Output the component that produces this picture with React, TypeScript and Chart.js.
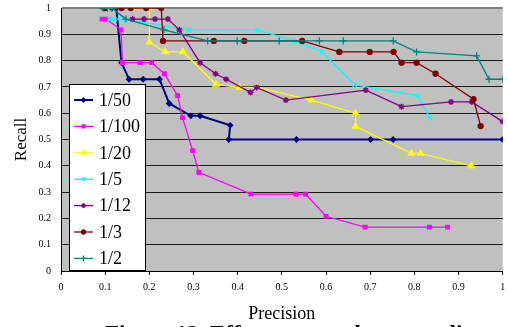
import React, { useEffect, useRef } from 'react';
import { Chart, registerables } from 'chart.js';
import { drawPoint } from 'chart.js/helpers';

Chart.register(...registerables);

const seriesLabels = ['1/50', '1/100', '1/20', '1/5', '1/12', '1/3', '1/2'];
const seriesColors = ['#000080', '#FF00FF', '#FFFF00', '#00FFFF', '#800080', '#800000', '#008080'];

const p50 = [0.095, 0.105, 0.115, 0.125, 0.137, 0.154, 0.186, 0.223, 0.245, 0.294, 0.315, 0.383, 0.380, 0.533, 0.701, 0.752, 1.0];
const r50 = [1, 1, 1, 1, 0.792, 0.729, 0.729, 0.729, 0.637, 0.59, 0.59, 0.554, 0.5, 0.5, 0.5, 0.5, 0.5];

const p100 = [0.093, 0.102, 0.136, 0.139, 0.179, 0.205, 0.234, 0.264, 0.275, 0.298, 0.312, 0.430, 0.532, 0.554, 0.600, 0.688, 0.834, 0.875];
const r100 = [0.958, 0.958, 0.917, 0.792, 0.792, 0.792, 0.75, 0.667, 0.583, 0.458, 0.375, 0.292, 0.292, 0.292, 0.208, 0.167, 0.167, 0.167];

const p20 = [0.1, 0.162, 0.2, 0.2, 0.236, 0.276, 0.351, 0.404, 0.443, 0.567, 0.667, 0.667, 0.793, 0.814, 0.929];
const r20 = [1, 1, 1, 0.87, 0.833, 0.833, 0.71, 0.698, 0.698, 0.65, 0.6, 0.55, 0.447, 0.447, 0.4];

const p5 = [0.11, 0.121, 0.143, 0.289, 0.445, 0.527, 0.591, 0.665, 0.807, 0.835];
const r5 = [0.958, 0.958, 0.958, 0.917, 0.917, 0.875, 0.833, 0.708, 0.667, 0.583];

const p12 = [0.162, 0.188, 0.213, 0.242, 0.268, 0.315, 0.35, 0.374, 0.429, 0.443, 0.509, 0.69, 0.771, 0.883, 0.93, 1.0];
const r12 = [0.958, 0.958, 0.958, 0.958, 0.917, 0.792, 0.75, 0.729, 0.679, 0.698, 0.65, 0.688, 0.625, 0.643, 0.643, 0.568];

const p3 = [0.1, 0.137, 0.158, 0.193, 0.227, 0.231, 0.346, 0.415, 0.546, 0.63, 0.699, 0.753, 0.771, 0.805, 0.848, 0.934, 0.95];
const r3 = [1, 1, 1, 1, 1, 0.875, 0.875, 0.875, 0.875, 0.833, 0.833, 0.833, 0.792, 0.792, 0.75, 0.653, 0.551];

const p2 = [0.095, 0.105, 0.115, 0.147, 0.233, 0.332, 0.399, 0.494, 0.585, 0.639, 0.752, 0.805, 0.941, 0.969, 1.0];
const r2 = [1, 1, 1, 0.958, 0.917, 0.875, 0.875, 0.875, 0.875, 0.875, 0.875, 0.833, 0.818, 0.729, 0.729];

const precisionSeries = [p50, p100, p20, p5, p12, p3, p2];
const recallSeries = [r50, r100, r20, r5, r12, r3, r2];

const pointStyles = ['rectRot', 'rect', 'triangle', 'crossRot', 'star', 'circle', 'cross'];
const pointRadii = [2.5, 2.5, 3.5, 3, 3, 2.5, 3.5];
const lineWidths = [2, 1.3, 1.3, 1.3, 1.3, 1.3, 1.3];

const xTickLabels = ['0', '0.1', '0.2', '0.3', '0.4', '0.5', '0.6', '0.7', '0.8', '0.9', '1'];
const yTickLabels = ['0', '0.1', '0.2', '0.3', '0.4', '0.5', '0.6', '0.7', '0.8', '0.9', '1'];

const SERIF = '"Liberation Serif", "Times New Roman", serif';

const bgPlugin = {
  id: 'plotBg',
  beforeDraw(chart: any) {
    const { ctx, chartArea } = chart;
    ctx.save();
    ctx.fillStyle = '#C0C0C0';
    ctx.fillRect(chartArea.left, chartArea.top, chartArea.right - chartArea.left, chartArea.bottom - chartArea.top);
    ctx.restore();
  },
};

const legendPlugin = {
  id: 'boxLegend',
  afterDatasetsDraw(chart: any) {
    const { ctx, chartArea } = chart;
    const bx = chartArea.left + 8.5;
    const by = chartArea.top + 76.5;
    const bw = 76;
    const bh = 186;
    ctx.save();
    ctx.fillStyle = '#ffffff';
    ctx.fillRect(bx, by, bw, bh);
    ctx.strokeStyle = '#000000';
    ctx.lineWidth = 1;
    ctx.strokeRect(bx, by, bw, bh);
    chart.data.datasets.forEach((ds: any, i: number) => {
      const y = by + 15.5 + i * 26.4;
      ctx.strokeStyle = ds.borderColor;
      ctx.lineWidth = ds.borderWidth;
      ctx.beginPath();
      ctx.moveTo(bx + 4.5, y);
      ctx.lineTo(bx + 23.5, y);
      ctx.stroke();
      ctx.fillStyle = ds.pointBackgroundColor;
      ctx.strokeStyle = ds.pointBorderColor;
      ctx.lineWidth = ds.pointBorderWidth;
      drawPoint(ctx, { pointStyle: ds.pointStyle, radius: ds.pointRadius * 0.8, borderWidth: ds.pointBorderWidth, rotation: 0 }, bx + 14, y);
      ctx.fillStyle = '#000000';
      ctx.font = '18px ' + SERIF;
      ctx.textBaseline = 'middle';
      ctx.textAlign = 'left';
      ctx.fillText(ds.label, bx + 29.5, y + 1);
    });
    ctx.restore();
  },
};

export default function App() {
  const ref = useRef<HTMLCanvasElement | null>(null);

  useEffect(() => {
    if (!ref.current) return;
    const n = seriesLabels.length;
    const datasets = seriesLabels.map((label, i) => ({
      label,
      data: precisionSeries[i].map((x, k) => ({ x, y: recallSeries[i][k] })),
      borderColor: seriesColors[i],
      backgroundColor: seriesColors[i],
      pointBackgroundColor: seriesColors[i],
      pointBorderColor: seriesColors[i],
      borderWidth: lineWidths[i],
      pointStyle: pointStyles[i],
      pointRadius: pointRadii[i],
      pointBorderWidth: 1.3,
      showLine: true,
      tension: 0,
      fill: false,
      order: n - i,
    }));

    const chart = new Chart(ref.current, {
      type: 'scatter',
      data: { datasets },
      options: {
        animation: false,
        responsive: false,
        maintainAspectRatio: false,
        layout: { padding: { top: 8, left: 0, right: 0, bottom: 0 } },
        plugins: { legend: { display: false }, tooltip: { enabled: false }, title: { display: false } },
        scales: {
          x: {
            type: 'linear',
            min: 0,
            max: 1,
            ticks: {
              stepSize: 0.1,
              padding: 6,
              maxRotation: 0,
              autoSkip: false,
              color: '#000',
              font: { family: SERIF, size: 10 },
              callback: (v: any) => xTickLabels[Math.round(Number(v) * 10)],
            },
            grid: { display: true, drawOnChartArea: false, drawTicks: true, tickLength: 4, color: '#000' },
            border: { display: true, color: '#000', width: 1 },
            title: { display: true, text: 'Precision', color: '#000', font: { family: SERIF, size: 18 }, padding: { top: 0, bottom: 2 } },
            afterFit: (s: any) => {
              s.height = 56;
              s.paddingLeft = 0;
              s.paddingRight = 0;
            },
          },
          y: {
            type: 'linear',
            min: 0,
            max: 1,
            ticks: {
              stepSize: 0.1,
              padding: 10,
              color: '#000',
              font: { family: SERIF, size: 10 },
              callback: (v: any) => yTickLabels[Math.round(Number(v) * 10)],
            },
            grid: {
              display: true,
              drawTicks: false,
              color: (c: any) => (c.tick && c.tick.value >= 1 ? '#808080' : '#1a1a1a'),
              lineWidth: (c: any) => (c.tick && c.tick.value >= 1 ? 2 : 1),
            },
            border: { display: true, color: '#000', width: 1 },
            title: { display: true, text: 'Recall', color: '#000', font: { family: SERIF, size: 17 }, padding: { top: 11, bottom: 0 } },
            afterFit: (s: any) => {
              s.width = 61;
              s.paddingTop = 0;
              s.paddingBottom = 0;
            },
          },
        },
      },
      plugins: [bgPlugin, legendPlugin],
    } as any);

    return () => chart.destroy();
  }, []);

  return (
    <div style={{ position: 'absolute', left: 0, top: 0, width: 508, height: 327, overflow: 'hidden', background: '#fff' }}>
      <canvas ref={ref} width={508} height={327} style={{ display: 'block', width: 508, height: 327 }} />
      <div
        style={{
          position: 'absolute',
          left: 105,
          top: 322,
          whiteSpace: 'nowrap',
          fontFamily: SERIF,
          fontWeight: 'bold',
          fontSize: 23,
          lineHeight: '23px',
          color: '#000',
        }}
      >
        Figure 12. Effects on random sampling
      </div>
    </div>
  );
}
